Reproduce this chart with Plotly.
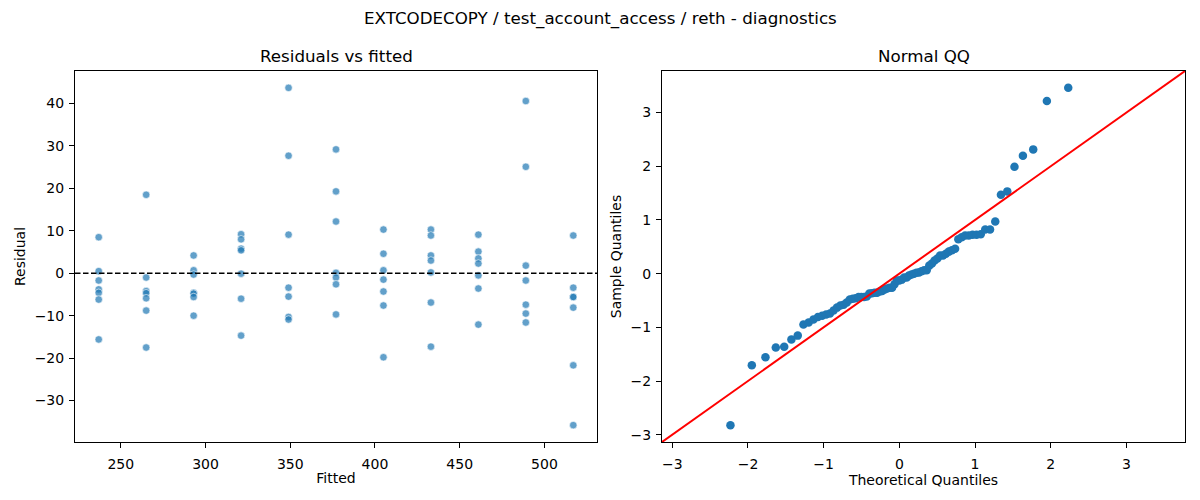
import numpy as np
import plotly.graph_objects as go
from statistics import NormalDist

# ---- data ----
fitted_levels = [237, 265, 293, 321, 349, 377, 405, 433, 461, 489, 517]
res_237 = [8.5, 0.5, -1.7, -3.8, -4.6, -6.2, -15.6]
res_265 = [18.5, -1.0, -4.2, -4.7, -5.9, -8.8, -17.5]
res_293 = [4.2, 0.7, -0.3, -4.6, -4.8, -5.6, -10.0]
res_321 = [9.2, 8.0, 5.8, 5.4, -0.1, -6.0, -14.7]
res_349 = [43.7, 27.7, 9.1, -3.4, -5.5, -10.3, -10.9]
res_377 = [29.2, 19.3, 12.2, 0.1, -1.0, -2.6, -9.7]
res_405 = [10.3, 4.6, 0.7, -1.5, -4.3, -7.6, -19.8]
res_433 = [10.3, 8.9, 4.2, 3.0, 0.2, -6.9, -17.3]
res_461 = [9.1, 5.1, 3.5, 2.3, -0.5, -3.6, -12.1]
res_489 = [40.6, 25.1, 1.8, -1.7, -7.4, -9.5, -11.6]
res_517 = [8.9, -3.4, -5.6, -5.6, -8.1, -21.7, -35.8]

residual_groups = [res_237, res_265, res_293, res_321, res_349, res_377,
                   res_405, res_433, res_461, res_489, res_517]

fitted = []
residuals = []
for f, grp in zip(fitted_levels, residual_groups):
    for r in grp:
        fitted.append(f)
        residuals.append(r)
fitted = np.array(fitted, dtype=float)
residuals = np.array(residuals, dtype=float)

# ---- QQ computation (statsmodels-like, fit=True, line='45') ----
n = len(residuals)
loc = residuals.mean()
scale = residuals.std()
sample_q = np.sort((residuals - loc) / scale)
nd = NormalDist()
theo_q = np.array([nd.inv_cdf(i / (n + 1)) for i in range(1, n + 1)])

def padded(lo, hi, m=0.05):
    d = hi - lo
    return [lo - m * d, hi + m * d]

xr_left = padded(fitted.min(), fitted.max())
yr_left = padded(residuals.min(), residuals.max())
qx = padded(theo_q.min(), theo_q.max())
qy = padded(sample_q.min(), sample_q.max())
q_lo = min(qx[0], qy[0])
q_hi = max(qx[1], qy[1])

FONT = "DejaVu Sans"
BLUE = "#1f77b4"

# page body has an 8px margin; figure is sized to fit inside the window
OFF = 8
W, H = 1200 - 2 * OFF, 500 - 2 * OFF

def px(x):
    return (x - OFF) / W

def py(y):
    return 1 - (y - OFF) / H

fig = go.Figure()

fig.add_trace(go.Scatter(
    x=fitted, y=residuals, mode="markers",
    marker=dict(size=7.5, color="rgba(31,119,180,0.7)",
                line=dict(color="white", width=0.6)),
    xaxis="x", yaxis="y", showlegend=False, hoverinfo="x+y"))

fig.add_trace(go.Scatter(
    x=xr_left, y=[0, 0], mode="lines",
    line=dict(color="black", width=1.3, dash="5.5px,2.5px"),
    xaxis="x", yaxis="y", showlegend=False, hoverinfo="skip"))

fig.add_trace(go.Scatter(
    x=theo_q, y=sample_q, mode="markers",
    marker=dict(size=8.5, color=BLUE, line=dict(width=0)),
    xaxis="x2", yaxis="y2", showlegend=False))

fig.add_trace(go.Scatter(
    x=[q_lo, q_hi], y=[q_lo, q_hi], mode="lines",
    line=dict(color="red", width=2),
    xaxis="x2", yaxis="y2", showlegend=False, hoverinfo="skip"))

axis_common = dict(
    showline=True, linecolor="black", linewidth=1, mirror=True,
    ticks="outside", ticklen=5, tickwidth=1, tickcolor="black",
    showgrid=False, zeroline=False, automargin=False,
    tickfont=dict(family=FONT, size=14, color="black"),
)

TF = dict(family=FONT, size=14, color="black")

fig.update_layout(
    width=W, height=H,
    margin=dict(l=0, r=0, t=0, b=0, autoexpand=False),
    paper_bgcolor="white", plot_bgcolor="white",
    font=dict(family=FONT, color="black"),
    xaxis=dict(domain=[px(75), px(597)], range=xr_left, anchor="y",
               tickvals=[250, 300, 350, 400, 450, 500], ticklabelstandoff=4,
               title=dict(text="Fitted", font=TF, standoff=2),
               **axis_common),
    yaxis=dict(domain=[py(442), py(71)], range=yr_left, anchor="x",
               tickvals=[-30, -20, -10, 0, 10, 20, 30, 40], ticklabelstandoff=2,
               title=dict(text="Residual", font=TF, standoff=5),
               **axis_common),
    xaxis2=dict(domain=[px(662), px(1185)], range=[q_lo, q_hi], anchor="y2",
                tickvals=[-3, -2, -1, 0, 1, 2, 3], ticklabelstandoff=4,
                title=dict(text="Theoretical Quantiles", font=TF, standoff=2),
                **axis_common),
    yaxis2=dict(domain=[py(442), py(71)], range=[q_lo, q_hi], anchor="x2",
                tickvals=[-3, -2, -1, 0, 1, 2, 3], ticklabelstandoff=2,
                title=dict(text="Sample Quantiles", font=TF, standoff=5),
                **axis_common),
    annotations=[
        dict(text="EXTCODECOPY / test_account_access / reth - diagnostics",
             x=px(600), y=py(18), xref="paper", yref="paper",
             xanchor="center", yanchor="middle", showarrow=False,
             font=dict(family=FONT, size=16.7, color="black")),
        dict(text="Residuals vs fitted",
             x=px((75 + 597) / 2), y=py(56), xref="paper", yref="paper",
             xanchor="center", yanchor="middle", showarrow=False,
             font=dict(family=FONT, size=16.7, color="black")),
        dict(text="Normal QQ",
             x=px((662 + 1185) / 2), y=py(56), xref="paper", yref="paper",
             xanchor="center", yanchor="middle", showarrow=False,
             font=dict(family=FONT, size=16.7, color="black")),
    ],
)

fig.write_html("out.html")
